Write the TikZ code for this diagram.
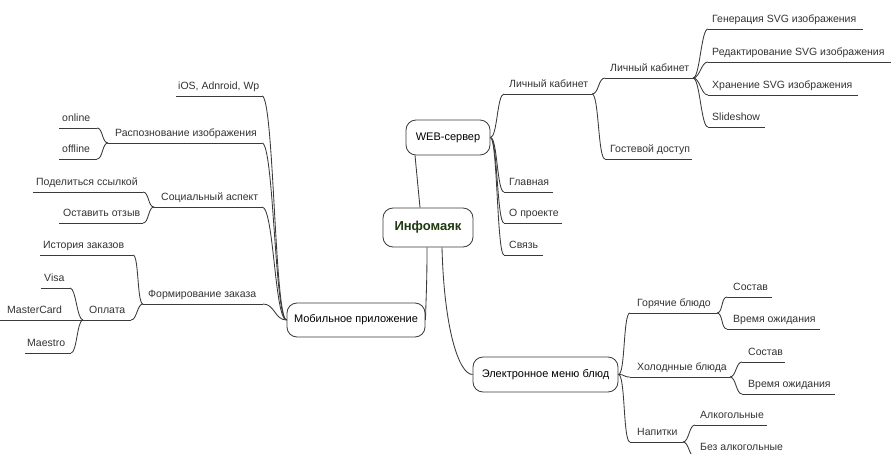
\documentclass[tikz,border=0pt]{standalone}
\usepackage{fontspec}
\setmainfont{Liberation Sans}
\definecolor{txt}{HTML}{333333}
\definecolor{ln}{HTML}{3A3A3A}
\definecolor{roottxt}{HTML}{1F3A10}
\tikzset{
  link/.style={draw=ln, line width=0.85pt},
  lbltext/.style={anchor=base west, inner sep=0pt, font=\fontsize{10.5}{12}\selectfont, text=txt},
  topic/.style={draw=ln, line width=0.85pt, rounded corners=10pt, fill=white,
    font=\fontsize{11}{13}\selectfont, text=black, inner sep=0pt},
}
\newcommand\mmitem[6]{% name, text x, underline x0, underline x1, underline y, text
  \coordinate (#1L) at (#3,#5);
  \coordinate (#1R) at (#4,#5);
  \node[lbltext] (#1) at (#2,{#5-6.5}) {#6};
  \draw[link] (#1L) -- (#1R);
}
\newcommand\mmconn[3][7]{\draw[link] (#2) .. controls ([xshift=#1pt]#2) and ([xshift=-#1pt]#3) .. (#3);}
\begin{document}
\begin{tikzpicture}[x=1pt,y=-1pt]
\clip (0,0) rectangle (891,454);
\fill[white] (0,0) rectangle (891,454);

% topics
\node[topic, minimum width=90pt, minimum height=39pt, font=\fontsize{13}{15}\selectfont\bfseries, text=roottxt] (R) at (428,227.5) {Инфомаяк};
\node[topic, minimum width=84pt, minimum height=35pt] (W) at (448,137.5) {WEB-сервер};
\node[topic, minimum width=138pt, minimum height=34pt] (M) at (356,320) {Мобильное приложение};
\node[topic, minimum width=145pt, minimum height=35pt] (E) at (545.5,374.5) {Электронное меню блюд};

% root connectors
\draw[link] ([xshift=-8pt]R.north) -- ([xshift=-33pt]W.south);
\draw[link] ([xshift=-1pt]R.south) .. controls +(0,30) and +(1,-30) .. (M.east);
\draw[link] ([xshift=14pt]R.south) .. controls +(2,80) and +(-14,0) .. (E.west);

% WEB branch
\mmitem{lkb}{509}{504}{592}{94}{Личный кабинет}
\mmitem{lkc}{610}{605}{693}{78}{Личный кабинет}
\mmitem{gost}{610}{605}{692}{159}{Гостевой доступ}
\mmitem{gen}{712}{708}{863}{29}{Генерация SVG изображения}
\mmitem{red}{712}{708}{891}{62}{Редактирование SVG изображения}
\mmitem{hran}{712}{708}{858}{95}{Хранение SVG изображения}
\mmitem{slide}{712}{708}{765}{127}{Slideshow}
\mmitem{glav}{509}{504}{553}{192}{Главная}
\mmitem{opr}{509}{504}{562}{223}{О проекте}
\mmitem{svz}{509}{504}{543}{255}{Связь}
\mmconn{W.east}{lkbL}
\mmconn{W.east}{glavL}
\mmconn{W.east}{oprL}
\mmconn{W.east}{svzL}
\mmconn{lkbR}{lkcL}
\mmconn{lkbR}{gostL}
\mmconn{lkcR}{genL}
\mmconn{lkcR}{redL}
\mmconn{lkcR}{hranL}
\mmconn{lkcR}{slideL}

% Mobile branch
\mmitem{ios}{178}{176}{262}{96}{iOS, Adnroid, Wp}
\mmitem{rasp}{115}{108}{262}{143}{Распознование изображения}
\mmitem{onl}{62}{59}{97}{128}{online}
\mmitem{offl}{62}{59}{97}{159}{offline}
\mmitem{soc}{161}{154}{262}{207}{Социальный аспект}
\mmitem{pod}{36}{33}{143}{192}{Поделиться ссылкой}
\mmitem{ost}{63}{59}{143}{223}{Оставить отзыв}
\mmitem{form}{148}{143}{263}{304}{Формирование заказа}
\mmitem{hist}{43}{40}{133}{255}{История заказов}
\mmitem{opl}{89}{83}{131}{320}{Оплата}
\mmitem{visa}{44}{41}{70}{288}{Visa}
\mmitem{mc}{7}{0}{83}{320}{MasterCard}
\mmitem{maes}{27}{25}{71}{353}{Maestro}
\mmconn[12]{iosR}{M.west}
\mmconn[12]{raspR}{M.west}
\mmconn[12]{socR}{M.west}
\mmconn[12]{formR}{M.west}
\mmconn[6]{onlR}{raspL}
\mmconn[6]{offlR}{raspL}
\mmconn[6]{podR}{socL}
\mmconn[6]{ostR}{socL}
\mmconn[6]{histR}{formL}
\mmconn[6]{oplR}{formL}
\mmconn[6]{visaR}{oplL}
\mmconn[6]{maesR}{oplL}

% Menu branch
\mmitem{gor}{637}{630}{717}{313}{Горячие блюдо}
\mmitem{sosta}{733}{727}{772}{297}{Состав}
\mmitem{vrema}{733}{727}{820}{329}{Время ожидания}
\mmitem{hol}{637}{630}{730}{377}{Холоднные блюда}
\mmitem{sostb}{748}{742}{785}{362}{Состав}
\mmitem{vremb}{748}{742}{835}{394}{Время ожидания}
\mmitem{nap}{637}{630}{683}{442}{Напитки}
\mmitem{alk}{700}{695}{767}{425}{Алкогольные}
\mmitem{bez}{700}{695}{787}{457}{Без алкогольные}
\mmconn{E.east}{gorL}
\mmconn{E.east}{holL}
\mmconn{E.east}{napL}
\mmconn[6]{gorR}{sostaL}
\mmconn[6]{gorR}{vremaL}
\mmconn[6]{holR}{sostbL}
\mmconn[6]{holR}{vrembL}
\mmconn[6]{napR}{alkL}
\mmconn[6]{napR}{bezL}
\end{tikzpicture}
\end{document}
